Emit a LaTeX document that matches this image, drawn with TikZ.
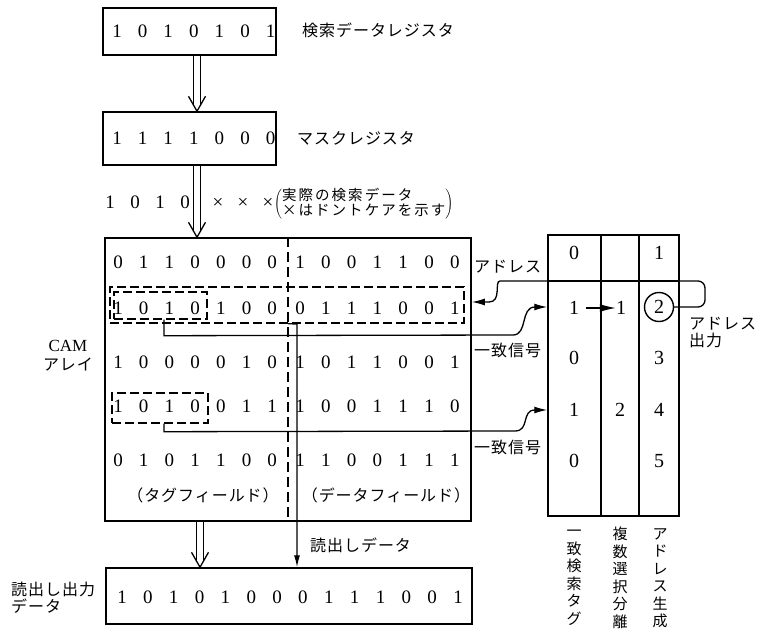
\documentclass[tikz,border=0pt]{standalone}
\usepackage{fontspec}
\setmainfont{Liberation Serif}
\newfontfamily\jp[LetterSpace=6]{Noto Sans CJK JP}
\newfontfamily\jpsmall[LetterSpace=14]{Noto Sans CJK JP}
\usetikzlibrary{arrows.meta,calc}
\newcommand\dblarr[2]{%
  \draw[line width=1.2pt] ([xshift=-3.2pt]#1) -- ([xshift=-3.2pt,yshift=5pt]#2);
  \draw[line width=1.2pt] ([xshift=3.2pt]#1) -- ([xshift=3.2pt,yshift=5pt]#2);
  \draw[line width=1.3pt] ([xshift=-8.5pt,yshift=15pt]#2) -- (#2) -- ([xshift=8.5pt,yshift=15pt]#2);}
\begin{document}
\begin{tikzpicture}[x=1pt,y=-1pt,
  box/.style={draw, line width=1.5pt, rectangle, inner sep=0pt},
  dig/.style={font=\fontsize{19}{19}\selectfont, inner sep=0pt},
  tdig/.style={font=\fontsize{20}{20}\selectfont, inner sep=0pt},
  lbl/.style={font=\jp\fontsize{16}{17}\selectfont, inner sep=0pt},
  dbox/.style={draw, dash pattern=on 9pt off 4pt, line width=1.4pt, inner sep=0pt, rectangle},
  wire/.style={line width=1.3pt},
  tip/.style={-{Latex[length=13pt,width=7pt]}}
]
\fill[white] (0,0) rectangle (765,629);
\useasboundingbox (0,0) rectangle (765,629);

% --- search data register
\node[box, minimum width=173pt, minimum height=47pt] (sreg) at (189.5,31.5) {};
\foreach \d [count=\i from 0] in {1,0,1,0,1,0,1}
  \node[dig] (s\i) at (117+25.6*\i,31) {\d};
\node[lbl, anchor=west] (sreglbl) at (302,30) {検索データレジスタ};

% --- mask register
\node[box, minimum width=173pt, minimum height=53pt] (mreg) at (189.5,138.5) {};
\foreach \d [count=\i from 0] in {1,1,1,1,0,0,0}
  \node[dig] (k\i) at (117+25.6*\i,138) {\d};
\node[lbl, anchor=west] (mreglbl) at (297,138) {マスクレジスタ};

% --- effective search data
\foreach \d [count=\i from 0] in {1,0,1,0}
  \node[dig] (e\i) at (110+25*\i,202) {\d};
\foreach \i in {0,1,2}
  \node[dig] (x\i) at (218+25*\i,203) {×};
\node[font=\jpsmall\fontsize{14.5}{14.5}\selectfont, inner sep=0pt, anchor=west] (note) at (274,204)
  {$\left(\begin{tabular}{@{}l@{}}実際の検索データ\\×はドントケアを示す\end{tabular}\right)$};

% --- CAM array
\node[box, minimum width=366pt, minimum height=283pt] (cam) at (288,379.5) {};
\draw[line width=1.3pt, dash pattern=on 10pt off 5pt] (cam.north -| 288,0) -- (cam.south -| 288,0);
\node[font=\fontsize{17}{19}\selectfont, align=center, inner sep=0pt] (camlbl) at (68,356)
  {CAM\\{\jp\fontsize{16}{19}\selectfont アレイ}};

\foreach \row/\tag/\dat [count=\r] in {
  262/{0,1,1,0,0,0,0}/{1,0,0,1,1,0,0},
  308/{1,0,1,0,1,0,0}/{0,1,1,1,0,0,1},
  362/{1,0,0,0,0,1,0}/{1,0,1,1,0,0,1},
  406/{1,0,1,0,0,1,1}/{1,0,0,1,1,1,0},
  460/{0,1,0,1,1,0,0}/{1,1,0,0,1,1,1}}{
  \foreach \d [count=\i from 0] in \tag
    \node[dig] (c\r t\i) at (118+25.7*\i,\row) {\d};
  \foreach \d [count=\i from 0] in \dat
    \node[dig] (c\r d\i) at (300+25.8*\i,\row) {\d};
}
\node[lbl] (tagf) at (203,495) {（タグフィールド）};
\node[lbl] (datf) at (386,495) {（データフィールド）};

% dashed selection boxes
\node[dbox, minimum width=354pt, minimum height=36pt] (bigsel) at (287,305) {};
\node[dbox, minimum width=93pt, minimum height=27pt] (m1) at (160.5,305.5) {};
\node[dbox, minimum width=96pt, minimum height=30pt] (m2) at (160,408) {};

% --- output register
\node[box, minimum width=366pt, minimum height=56pt] (oreg) at (289,596) {};
\foreach \d [count=\i from 0] in {1,0,1,0,1,0,0,0,1,1,1,0,0,1}
  \node[dig] (o\i) at (122+25.85*\i,597) {\d};
\node[lbl, anchor=west, align=left] (oreglbl) at (11,598) {読出し出力\\データ};

% --- double arrows
\coordinate (a1s) at (sreg.south -| 197,0);
\coordinate (a1e) at (mreg.north -| 197,0);
\coordinate (a2s) at (mreg.south -| 197,0);
\coordinate (a2e) at (cam.north -| 197,0);
\coordinate (a3s) at (cam.south -| 200,0);
\coordinate (a3e) at (oreg.north -| 200,0);
\dblarr{a1s}{a1e}
\dblarr{a2s}{a2e}
\dblarr{a3s}{a3e}

% --- read data line
\draw[wire, -{Latex[length=12pt,width=6pt]}] (bigsel.south -| 288,0) -- (297,324) -- (oreg.north -| 297,0);
\node[lbl, anchor=west] (rdlbl) at (310,545) {読出しデータ};

% --- right table
\node[box, minimum width=131pt, minimum height=281pt] (tbl) at (613.5,375.5) {};
\draw[line width=1.3pt] (tbl.north -| 601,0) -- (tbl.south -| 601,0);
\draw[line width=1.3pt] (tbl.north -| 639,0) -- (tbl.south -| 639,0);
\draw[line width=1.3pt] (tbl.west |- 0,281) -- (tbl.east |- 0,281);
\node[tdig] (h0) at (574,253) {0};
\node[tdig] (h1) at (659,253) {1};
\node[tdig] (t1) at (574,308) {1};
\node[tdig] (t2) at (574,358) {0};
\node[tdig] (t3) at (574,410) {1};
\node[tdig] (t4) at (574,461) {0};
\node[tdig] (u1) at (621,308) {1};
\node[tdig] (u3) at (620,410) {2};
\node[tdig, draw, circle, line width=1.4pt, minimum size=29pt] (c2) at (659,307) {2};
\node[tdig] (v2) at (659,358) {3};
\node[tdig] (v3) at (659,410) {4};
\node[tdig] (v4) at (659,461) {5};
\draw[wire, -{Latex[length=16pt,width=8pt]}, shorten <=7pt] (t1.east) -- (u1.west);

% address loop
\draw[wire, tip, rounded corners=7pt] (c2.east) -- (705,307) -- (705,281) -- (507,281)
  [sharp corners] .. controls (494,281) and (502,302) .. (489,302) -- (cam.east |- 0,302);
\node[lbl, anchor=west] (adrlbl) at (474,267) {アドレス};
\node[lbl, anchor=west, align=left] (adrout) at (689,333) {アドレス\\出力};

% match lines
\draw[wire, tip] ([xshift=3.5pt]m1.south) -- ++(0,16) -- (513,335)
  .. controls (528,335) and (520,307) .. (535,307) -- (tbl.west |- 0,307);
\draw[wire, tip] ([xshift=4pt]m2.south) -- ++(0,8) -- (515,431)
  .. controls (530,431) and (521,410) .. (535,410) -- (tbl.west |- 0,410);
\node[lbl, anchor=west] (mt1) at (474,350) {一致信号};
\node[lbl, anchor=west] (mt2) at (474,447) {一致信号};

% vertical captions
\node[lbl, align=center, font=\jp\fontsize{15}{17.5}\selectfont] (vc1) at (574,578) {一\\致\\検\\索\\タ\\グ};
\node[lbl, align=center, font=\jp\fontsize{15}{17.5}\selectfont] (vc2) at (620,578) {複\\数\\選\\択\\分\\離};
\node[lbl, align=center, font=\jp\fontsize{15}{17.5}\selectfont] (vc3) at (660,578) {ア\\ド\\レ\\ス\\生\\成};
\end{tikzpicture}
\end{document}
